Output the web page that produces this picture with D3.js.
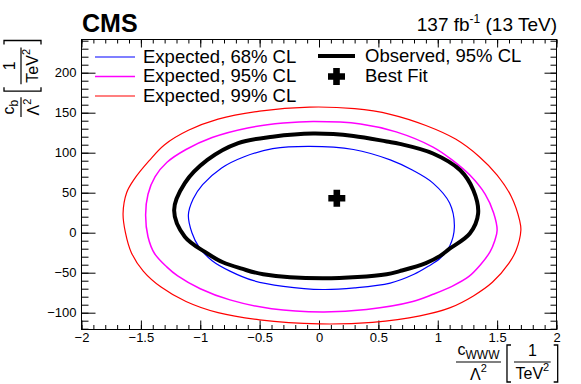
<!DOCTYPE html>
<html>
<head>
<meta charset="utf-8">
<script src="https://cdn.jsdelivr.net/npm/d3@7"></script>
<style>
  body { margin: 0; background: #fff; }
  text { font-family: "Liberation Sans", Arial, Helvetica, sans-serif; fill: #000; }
</style>
</head>
<body>
<div id="chart"></div>
<script>
// axis ticks
const xTicks = [-2, -1.5, -1, -0.5, 0, 0.5, 1, 1.5, 2];
const yTicks = [-100, -50, 0, 50, 100, 150, 200];

// contours: [c_WWW, c_b]
const exp68 = [
  [-0.08, 108], [0.29, 104], [0.60, 91], [0.79, 78], [0.96, 62], [1.10, 37], [1.14, 7],
  [1.10, -17], [1.02, -32], [0.92, -42], [0.80, -52], [0.60, -63], [0.30, -69], [0.03, -71],
  [-0.30, -67], [-0.55, -60], [-0.75, -48], [-0.90, -35], [-1.01, -18], [-1.07, 0],
  [-1.10, 22], [-1.06, 42], [-0.98, 60], [-0.82, 81], [-0.63, 95], [-0.39, 105]
];
const exp95 = [
  [-0.05, 139], [0.35, 136], [0.65, 126], [0.96, 107], [1.12, 91], [1.27, 72], [1.40, 48],
  [1.47, 25], [1.50, 3], [1.48, -10], [1.44, -24], [1.36, -40], [1.26, -55], [1.12, -67],
  [0.96, -77], [0.79, -86], [0.40, -96], [0.03, -99], [-0.40, -95], [-0.75, -84],
  [-1.00, -70], [-1.19, -54], [-1.28, -43], [-1.385, -26], [-1.44, -5], [-1.46, 22],
  [-1.44, 48], [-1.38, 70], [-1.28, 88], [-1.12, 104], [-0.90, 119], [-0.60, 131], [-0.30, 137]
];
const exp99 = [
  [-0.08, 157], [0.30, 155], [0.60, 148], [0.90, 134], [1.15, 117], [1.35, 95], [1.50, 72],
  [1.62, 45], [1.69, 15], [1.70, 3], [1.66, -22], [1.60, -38], [1.46, -62], [1.30, -79],
  [1.10, -94], [0.85, -104], [0.45, -112], [0.0, -114], [-0.50, -109], [-0.85, -100],
  [-1.12, -86], [-1.33, -68], [-1.48, -48], [-1.58, -25], [-1.63, 0], [-1.65, 24],
  [-1.62, 50], [-1.56, 66], [-1.43, 90], [-1.30, 110], [-1.10, 128], [-0.85, 142], [-0.50, 152]
];
const obs95 = [
  [-0.05, 124], [0.29, 121], [0.57, 114], [0.68, 111], [0.96, 99], [1.19, 78], [1.30, 53],
  [1.34, 24], [1.27, -1], [1.10, -20], [1.02, -29], [0.90, -38], [0.68, -48], [0.57, -52],
  [0.03, -57], [-0.47, -52], [-0.65, -45], [-0.81, -37], [-0.94, -26], [-1.13, -5],
  [-1.22, 28], [-1.13, 62], [-0.94, 91], [-0.68, 112], [-0.39, 120]
];
const bestFit = [0.15, 43];

const legendLeft = ["Expected, 68% CL", "Expected, 95% CL", "Expected, 99% CL"];
const legendRight = ["Observed, 95% CL", "Best Fit"];

const width = 581, height = 384;
const frame = { left: 81.5, right: 556.5, top: 39.5, bottom: 329.5 };

const svg = d3.select("#chart").append("svg")
  .attr("width", width).attr("height", height)
  .style("display", "block");

const x = d3.scaleLinear().domain([-2, 2]).range([frame.left, frame.right]);
const y = d3.scaleLinear().domain([-121, 241.5]).range([frame.bottom, frame.top]);
const fmt = d3.format("~g");

// minor ticks (no labels)
function minor(axis, scale, n, size, tr) {
  svg.append("g").attr("transform", tr)
    .call(axis(scale).ticks(n).tickSize(size).tickSizeOuter(0).tickFormat(""))
    .call(g => g.select(".domain").remove());
}
minor(d3.axisBottom, x, 40, -4.5, `translate(0,${frame.bottom})`);
minor(d3.axisTop, x, 40, -4, `translate(0,${frame.top})`);
minor(d3.axisLeft, y, 36, -7, `translate(${frame.left},0)`);
minor(d3.axisRight, y, 36, -6, `translate(${frame.right},0)`);

// major ticks
svg.append("g").attr("transform", `translate(0,${frame.bottom})`)
  .call(d3.axisBottom(x).tickValues(xTicks).tickSize(-9).tickSizeOuter(0).tickPadding(3.5).tickFormat(fmt))
  .call(g => g.select(".domain").remove());
svg.append("g").attr("transform", `translate(0,${frame.top})`)
  .call(d3.axisTop(x).tickValues(xTicks).tickSize(-8).tickSizeOuter(0).tickFormat(""))
  .call(g => g.select(".domain").remove());
svg.append("g").attr("transform", `translate(${frame.left},0)`)
  .call(d3.axisLeft(y).tickValues(yTicks).tickSize(-14).tickSizeOuter(0).tickPadding(5).tickFormat(fmt))
  .call(g => g.select(".domain").remove());
svg.append("g").attr("transform", `translate(${frame.right},0)`)
  .call(d3.axisRight(y).tickValues(yTicks).tickSize(-12).tickSizeOuter(0).tickFormat(""))
  .call(g => g.select(".domain").remove());

svg.selectAll(".tick line").attr("stroke", "#000");
svg.selectAll(".tick text")
  .attr("font-size", 13).attr("fill", "#000")
  .style("font-family", "'Liberation Sans', Arial, sans-serif");

svg.append("rect")
  .attr("x", frame.left).attr("y", frame.top)
  .attr("width", frame.right - frame.left).attr("height", frame.bottom - frame.top)
  .attr("fill", "none").attr("stroke", "#000").attr("stroke-width", 1);

// contours
const contours = [
  { data: exp99, color: "#ff0000", width: 1.2 },
  { data: exp95, color: "#ff00ff", width: 1.5 },
  { data: exp68, color: "#0000ff", width: 1.2 },
  { data: obs95, color: "#000000", width: 4 }
];
const line = d3.line()
  .x(d => x(d[0])).y(d => y(d[1]))
  .curve(d3.curveCatmullRomClosed.alpha(0.5));

svg.append("g").selectAll("path")
  .data(contours)
  .join("path")
  .attr("d", d => line(d.data))
  .attr("fill", "none")
  .attr("stroke", d => d.color)
  .attr("stroke-width", d => d.width)
  .attr("stroke-linejoin", "round");

const cross = "M-3.3,-8.5h6.6v5.2h5.2v6.6h-5.2v5.2h-6.6v-5.2h-5.2v-6.6h5.2z";
svg.append("path")
  .attr("d", cross)
  .attr("transform", `translate(${x(bestFit[0])},${y(bestFit[1])})`)
  .attr("fill", "#000");

// legend
const rowY = [57, 76.5, 96];
const leg = svg.append("g").attr("font-size", 18.5);
leg.selectAll("line.l")
  .data(legendLeft)
  .join("line")
  .attr("x1", 95).attr("x2", 135)
  .attr("y1", (d, i) => rowY[i]).attr("y2", (d, i) => rowY[i])
  .attr("stroke", (d, i) => contours[2 - i].color)
  .attr("stroke-width", (d, i) => contours[2 - i].width);
leg.selectAll("text.l")
  .data(legendLeft)
  .join("text")
  .attr("x", 143).attr("y", (d, i) => rowY[i] + 5.5)
  .text(d => d);

leg.append("line")
  .attr("x1", 318).attr("x2", 355).attr("y1", rowY[0] - 1).attr("y2", rowY[0] - 1)
  .attr("stroke", "#000").attr("stroke-width", 4);
leg.append("path").attr("d", cross)
  .attr("transform", `translate(336.5,${rowY[1]})`).attr("fill", "#000");
leg.selectAll("text.r")
  .data(legendRight)
  .join("text")
  .attr("x", 365).attr("y", (d, i) => rowY[i] + 5)
  .text(d => d);

// headers
svg.append("text").attr("x", 82).attr("y", 31.5)
  .attr("font-size", 25).attr("font-weight", "bold").text("CMS");
const lumi = svg.append("text").attr("x", 557).attr("y", 31)
  .attr("text-anchor", "end").attr("font-size", 19);
lumi.append("tspan").text("137 fb");
lumi.append("tspan").attr("font-size", 12).attr("dy", -8).text("-1");
lumi.append("tspan").attr("dy", 8).text(" (13 TeV)");

// axis titles: c_sub / Λ² [1/TeV²]
function unitLabel(g, sub) {
  const fs = 16;
  const num = g.append("text").attr("y", -7.5).attr("font-size", fs);
  num.append("tspan").text("c");
  num.append("tspan").attr("font-size", 12).attr("dy", 4).text(sub);
  const den = g.append("text").attr("y", 18).attr("font-size", fs);
  den.append("tspan").text("\u039B");
  den.append("tspan").attr("font-size", 11).attr("dy", -8).text("2");
  const nw = num.node().getComputedTextLength();
  const dw = den.node().getComputedTextLength();
  const bw = Math.max(nw, dw) + 3;
  num.attr("x", (bw - nw) / 2);
  den.attr("x", (bw - dw) / 2);
  g.append("line").attr("x1", 0).attr("x2", bw).attr("stroke", "#000").attr("stroke-width", 1.2);

  const b0 = bw + 6;
  const one = g.append("text").attr("y", -6).attr("font-size", fs).text("1");
  const tev = g.append("text").attr("y", 17).attr("font-size", fs);
  tev.append("tspan").text("TeV");
  tev.append("tspan").attr("font-size", 11).attr("dy", -8).text("2");
  const ow = one.node().getComputedTextLength();
  const tw = tev.node().getComputedTextLength();
  const fw = Math.max(ow, tw) + 3;
  const f0 = b0 + 7;
  one.attr("x", f0 + (fw - ow) / 2);
  tev.attr("x", f0 + (fw - tw) / 2);
  g.append("line").attr("x1", f0).attr("x2", f0 + fw).attr("stroke", "#000").attr("stroke-width", 1.2);
  const b1 = f0 + fw + 3;
  g.append("path")
    .attr("d", `M${b0 + 4},-17H${b0}V20H${b0 + 4}M${b1},-17H${b1 + 4}V20H${b1}`)
    .attr("fill", "none").attr("stroke", "#000").attr("stroke-width", 1.3);
}
unitLabel(svg.append("g").attr("transform", "translate(456,362)"), "WWW");
unitLabel(svg.append("g").attr("transform", "translate(21,117) rotate(-90)"), "b");
</script>
</body>
</html>
